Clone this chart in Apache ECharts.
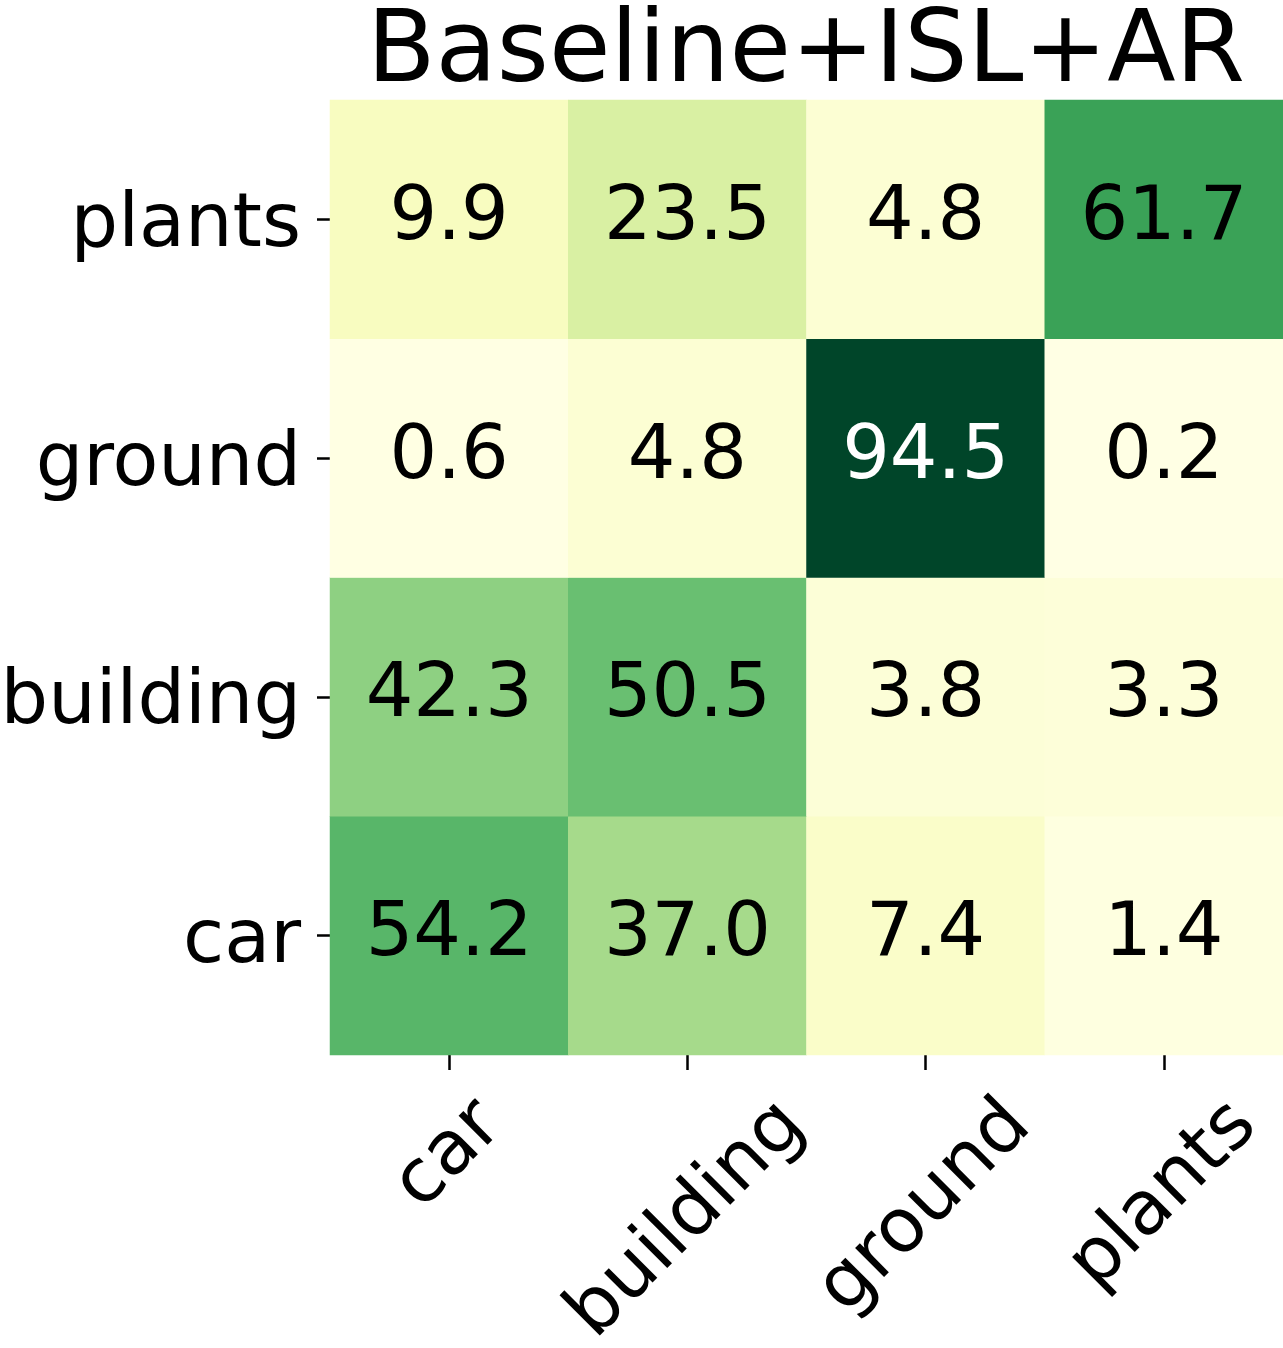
<!DOCTYPE html>
<html>
<head>
<meta charset="utf-8">
<script src="https://cdn.jsdelivr.net/npm/echarts@6/dist/echarts.min.js"></script>
<style>html,body{margin:0;padding:0;background:#fff}#chart{width:1283px;height:1348px}</style>
</head>
<body>
<div id="chart"></div>
<script>
const titleText = 'Baseline+ISL+AR';
const xCategories = ['car', 'building', 'ground', 'plants'];
const yCategories = ['car', 'building', 'ground', 'plants'];
// rows by true label (y), columns by predicted (x)
const rowCar = [54.2, 37.0, 7.4, 1.4];
const rowBuilding = [42.3, 50.5, 3.8, 3.3];
const rowGround = [0.6, 4.8, 94.5, 0.2];
const rowPlants = [9.9, 23.5, 4.8, 61.7];
const rows = [rowCar, rowBuilding, rowGround, rowPlants];
const ylgn = ['#ffffe5', '#f7fcb9', '#d9f0a3', '#addd8e', '#78c679', '#41ab5d', '#238443', '#006837', '#004529'];
const vmin = 0, vmax = 94.5;

const FONT = 'DejaVu Sans';
const FS = 75;
const LH = 75;
const cv = document.createElement('canvas').getContext('2d');
cv.font = FS + 'px "' + FONT + '"';

const data = [];
rows.forEach((r, yi) => r.forEach((v, xi) => {
  data.push({
    value: [xi, yi, v],
    label: { color: (v - vmin) / (vmax - vmin) > 0.8 ? '#ffffff' : '#000000' }
  });
}));

// rotated x labels: centre the rotated box under the tick (matplotlib ha='center')
const xAxisData = xCategories.map(c => {
  const w = cv.measureText(c).width;
  const t = w / 4;
  const r = LH + w / 2;
  return {
    value: c,
    textStyle: {
      align: 'center', verticalAlign: 'top', lineHeight: LH, padding: [t, r, 0, 0],
      fontFamily: FONT, fontSize: FS, color: '#000'
    }
  };
});

const chart = echarts.init(document.getElementById('chart'), null, { renderer: 'canvas' });
chart.setOption({
  animation: false,
  backgroundColor: '#ffffff',
  title: {
    text: titleText,
    left: 801,
    textAlign: 'center',
    top: 0,
    textStyle: { fontFamily: FONT, fontSize: 100, fontWeight: 'normal', color: '#000' }
  },
  grid: { left: 330, right: 0, top: 100, bottom: 293, containLabel: false, outerBoundsMode: 'none' },
  xAxis: {
    type: 'category',
    data: xAxisData,
    axisLine: { show: false },
    axisTick: { show: true, alignWithLabel: true, length: 15, lineStyle: { color: '#000', width: 2.5 } },
    splitLine: { show: false },
    splitArea: { show: false },
    axisLabel: {
      interval: 0, rotate: 45, margin: 6,
      fontFamily: FONT, fontSize: FS, color: '#000', hideOverlap: false
    }
  },
  yAxis: {
    type: 'category',
    data: yCategories,
    axisLine: { show: false },
    axisTick: { show: true, alignWithLabel: true, length: 13, lineStyle: { color: '#000', width: 2.5 } },
    splitLine: { show: false },
    splitArea: { show: false },
    axisLabel: {
      interval: 0, margin: 29, fontFamily: FONT, fontSize: FS, color: '#000',
      verticalAlign: 'top', lineHeight: 14
    }
  },
  visualMap: {
    show: false, type: 'continuous', dimension: 2, min: vmin, max: vmax,
    inRange: { color: ylgn }
  },
  series: [{
    type: 'heatmap',
    data: data,
    label: {
      show: true, fontFamily: FONT, fontSize: FS,
      formatter: p => p.value[2].toFixed(1)
    },
    emphasis: { disabled: true },
    itemStyle: { borderWidth: 0 }
  }]
});
</script>
</body>
</html>
